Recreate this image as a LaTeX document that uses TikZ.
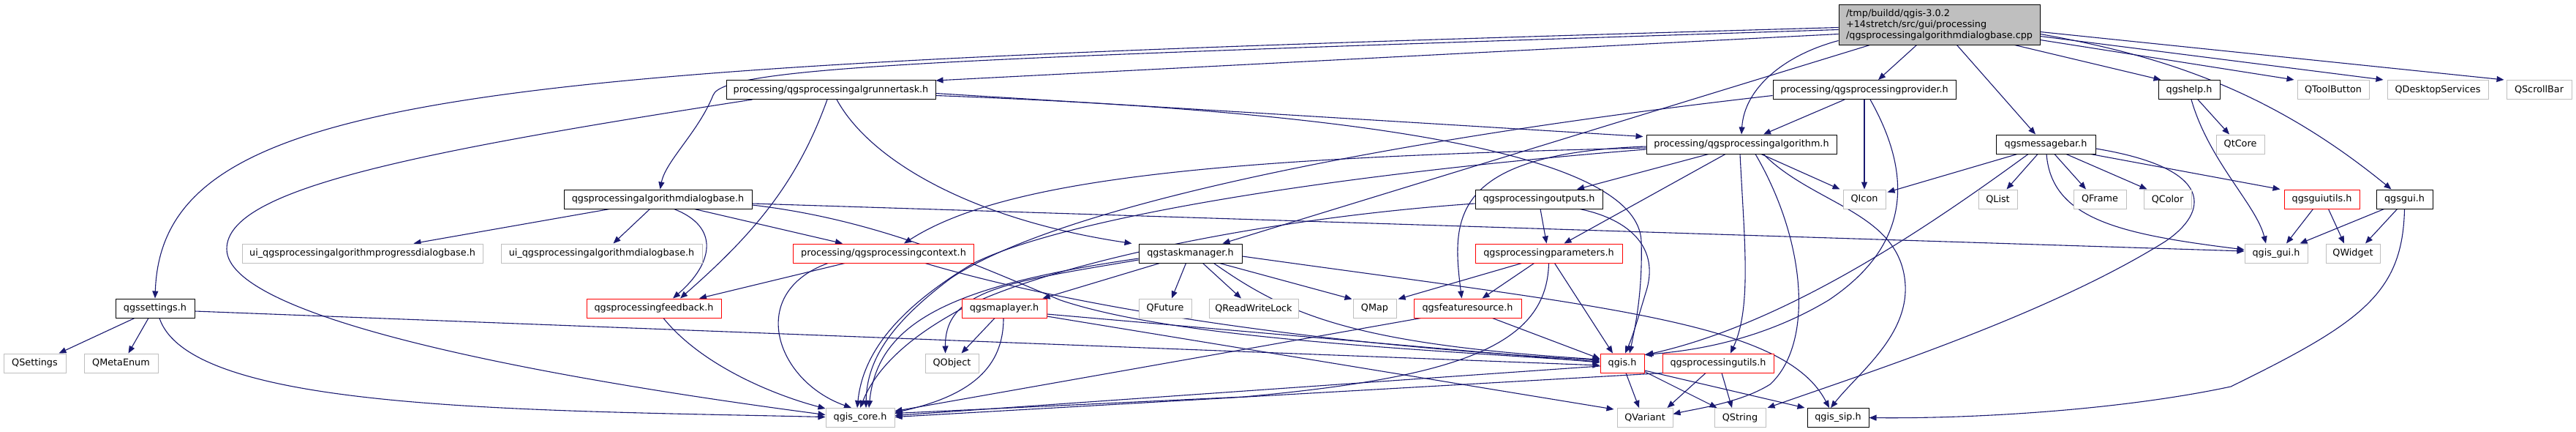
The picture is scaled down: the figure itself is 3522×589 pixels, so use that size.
\documentclass[tikz,border=0pt]{standalone}
\usepackage{fontspec}
\setmainfont{DejaVu Sans}
\usetikzlibrary{arrows.meta,calc}
\definecolor{edgec}{HTML}{191970}
\definecolor{gbord}{HTML}{BFBFBF}
\definecolor{mfill}{HTML}{BFBFBF}
\pgfdeclarelayer{bg}
\pgfsetlayers{bg,main}
\tikzset{
 nb/.style={rectangle, inner sep=0pt, minimum height=13pt, line width=0.5pt, fill=white, font=\fontsize{6.4}{7.5}\selectfont},
 blk/.style={nb, draw=black},
 redn/.style={nb, draw=red},
 gry/.style={nb, draw=gbord},
 e/.style={draw=edgec, line width=0.55pt, -{Triangle[length=5pt,width=4pt]}},
}
\newcommand\mynd[6]{\node[#1, minimum width=#5*0.5pt] (#2) at (#3,#4) {#6};}
\begin{document}
\begin{tikzpicture}[x=0.5pt,y=-0.5pt]
\useasboundingbox (0,0) rectangle (3522,589);
% nodes
\node[blk, fill=mfill, minimum width=137.5pt, minimum height=27.5pt, align=left] (main) at (2651.5,33.5) {/tmp/buildd/qgis-3.0.2\\+14stretch/src/gui/processing\\/qgsprocessingalgorithmdialogbase.cpp};
\mynd{blk}{runner}{1136}{122.5}{286}{processing/qgsprocessingalgrunnertask.h}
\mynd{blk}{provider}{2549}{122.5}{250}{processing/qgsprocessingprovider.h}
\mynd{blk}{help}{2993}{122.5}{84}{qgshelp.h}
\mynd{gry}{tbtn}{3190}{122.5}{98}{QToolButton}
\mynd{gry}{dsk}{3333}{122.5}{138}{QDesktopServices}
\mynd{gry}{sbar}{3471.5}{122.5}{89}{QScrollBar}
\mynd{blk}{alg}{2381}{197}{260}{processing/qgsprocessingalgorithm.h}
\mynd{blk}{msgbar}{2797}{197}{136}{qgsmessagebar.h}
\mynd{gry}{qtcore}{3063}{197}{66}{QtCore}
\mynd{blk}{dlgh}{899.5}{272}{257}{qgsprocessingalgorithmdialogbase.h}
\mynd{blk}{outputs}{2104}{272}{174}{qgsprocessingoutputs.h}
\mynd{gry}{qicon}{2549}{272}{58}{QIcon}
\mynd{gry}{qlist}{2731.5}{272}{53}{QList}
\mynd{gry}{qframe}{2871}{272}{72}{QFrame}
\mynd{gry}{qcolor}{2963.5}{272}{65}{QColor}
\mynd{redn}{guiutils}{3174.5}{272}{103}{qgsguiutils.h}
\mynd{blk}{gui}{3287.5}{272}{77}{qgsgui.h}
\mynd{gry}{uiprog}{495.5}{346}{329}{ui\_qgsprocessingalgorithmprogressdialogbase.h}
\mynd{gry}{uidlg}{822.5}{346}{275}{ui\_qgsprocessingalgorithmdialogbase.h}
\mynd{redn}{context}{1208}{346}{247}{processing/qgsprocessingcontext.h}
\mynd{blk}{taskmgr}{1627.5}{346}{141}{qgstaskmanager.h}
\mynd{redn}{params}{2117.5}{346}{201}{qgsprocessingparameters.h}
\mynd{gry}{qgisgui}{3112}{346}{86}{qgis\_gui.h}
\mynd{gry}{qwidget}{3217}{346}{74}{QWidget}
\mynd{blk}{settings}{212}{421}{108}{qgssettings.h}
\mynd{redn}{feedback}{894}{421}{184}{qgsprocessingfeedback.h}
\mynd{redn}{maplayer}{1373}{421}{116}{qgsmaplayer.h}
\mynd{gry}{qfuture}{1593}{421}{72}{QFuture}
\mynd{gry}{qrwl}{1714}{421}{122}{QReadWriteLock}
\mynd{gry}{qmap}{1879.5}{421}{59}{QMap}
\mynd{redn}{fsrc}{2006.5}{421}{147}{qgsfeaturesource.h}
\mynd{gry}{qsettings}{47.5}{496}{85}{QSettings}
\mynd{gry}{qmeta}{165.5}{496}{101}{QMetaEnum}
\mynd{gry}{qobject}{1301.5}{496}{73}{QObject}
\mynd{redn}{qgis}{2218}{496}{60}{qgis.h}
\mynd{redn}{utils}{2349}{496}{152}{qgsprocessingutils.h}
\mynd{gry}{core}{1176}{570.5}{94}{qgis\_core.h}
\mynd{gry}{qvariant}{2249}{570.5}{76}{QVariant}
\mynd{gry}{qstring}{2379}{570.5}{70}{QString}
\mynd{blk}{sip}{2513}{570.5}{84}{qgis\_sip.h}
\begin{pgfonlayer}{bg}
% main
\draw[e] ($(main.west)+(0,4)$) .. controls (700,90) and (222,110) .. (settings.north);
\draw[e] ($(main.west)+(0,7)$) .. controls (1300,80) and (990,90) .. (975,130) .. controls (955,180) and (910,220) .. ($(dlgh.north)+(3,0)$);
\draw[e] ($(main.west)+(0,13)$) -- ($(runner.north east)+(0,1)$);
\draw[e] ($(main.south west)+(0,-6)$) .. controls (2440,75) and (2385,120) .. (alg.north);
\draw[e] ($(main.south west)+(43,0)$) -- ($(taskmgr.north east)+(-27,0)$);
\draw[e] ($(main.south)+(-31,0)$) -- ($(provider.north)+(19,0)$);
\draw[e] ($(main.south)+(24,0)$) -- ($(msgbar.north)+(-14,0)$);
\draw[e] ($(main.south east)+(-35,0)$) -- ($(help.north west)+(4,0)$);
\draw[e] ($(main.east)+(0,21)$) -- ($(tbtn.north west)+(-4,0)$);
\draw[e] ($(main.east)+(0,16)$) -- ($(dsk.north west)+(-5,0)$);
\draw[e] ($(main.east)+(0,10)$) -- ($(sbar.north west)+(-3,0)$);
\draw[e] ($(main.east)+(0,13)$) .. controls (2950,75) and (3100,120) .. ($(gui.north)+(-18,0)$);
% runner
\draw[e] ($(runner.east)+(0,5)$) -- ($(alg.north west)+(-4,3)$);
\draw[e] ($(runner.east)+(0,8)$) .. controls (1800,150) and (2240,200) .. (2244,330) .. controls (2246,400) and (2235,450) .. ($(qgis.north)+(10,0)$);
\draw[e] ($(runner.south west)+(36,0)$) .. controls (550,210) and (310,260) .. (310,340) .. controls (310,430) and (700,510) .. ($(core.west)+(0,-4)$);
\draw[e] ($(runner.south)+(-5,0)$) .. controls (1090,250) and (1030,320) .. ($(feedback.north)+(36,0)$);
\draw[e] ($(runner.south)+(8,0)$) .. controls (1190,220) and (1330,300) .. ($(taskmgr.north west)+(-9,0)$);
% dlgh
\draw[e] ($(dlgh.south)+(-66,0)$) -- ($(uiprog.north)+(70,0)$);
\draw[e] ($(dlgh.south)+(-11,0)$) -- ($(uidlg.north)+(16,0)$);
\draw[e] ($(dlgh.south)+(22,0)$) .. controls (985,310) and (975,360) .. ($(feedback.north)+(26,0)$);
\draw[e] ($(dlgh.south)+(50,0)$) -- ($(context.north)+(-56,0)$);
\draw[e] ($(dlgh.east)+(0,6)$) -- ($(qgisgui.west)+(0,-3)$);
\draw[e] ($(dlgh.east)+(0,8)$) .. controls (1200,300) and (1330,360) .. (1450,410) .. controls (1600,460) and (1900,475) .. ($(qgis.west)+(0,-2)$);
% settings
\draw[e] ($(settings.south)+(-28,0)$) -- ($(qsettings.north)+(33,0)$);
\draw[e] ($(settings.south)+(-9,0)$) -- ($(qmeta.north)+(10,0)$);
\draw[e] ($(settings.south)+(6,0)$) .. controls (260,560) and (700,560) .. ($(core.west)+(0,-1)$);
\draw[e] ($(settings.east)+(0,4)$) -- ($(qgis.west)+(0,3)$);
% feedback
\draw[e] ($(feedback.south)+(13,0)$) .. controls (960,500) and (1060,540) .. ($(core.north west)+(0,1)$);
% context
\draw[e] ($(context.south)+(-53,0)$) -- ($(feedback.north)+(62,0)$);
\draw[e] ($(context.south)+(-76,0)$) .. controls (1020,400) and (1060,520) .. ($(core.north)+(-12,0)$);
\draw[e] ($(context.south)+(57,0)$) .. controls (1400,400) and (1700,465) .. ($(qgis.west)+(0,-4)$);
% provider
\draw[e] ($(provider.south)+(-27,0)$) -- ($(alg.north)+(30,0)$);
\draw[e] (provider) -- (qicon);
\draw[e] ($(provider.south)+(8,0)$) .. controls (2610,230) and (2620,330) .. (2500,410) .. controls (2400,470) and (2300,480) .. ($(qgis.north east)+(0,2)$);
\draw[e] ($(provider.west)+(0,8)$) .. controls (1900,190) and (1450,280) .. (1300,380) .. controls (1220,440) and (1185,490) .. ($(core.north)+(8,0)$);
% alg
\draw[e] ($(alg.south)+(-45,0)$) -- ($(outputs.north)+(52,0)$);
\draw[e] ($(alg.south)+(-22,0)$) -- ($(params.north)+(21,0)$);
\draw[e] ($(alg.west)+(0,5)$) .. controls (1700,215) and (1380,240) .. ($(context.north)+(28,0)$);
\draw[e] ($(alg.west)+(0,7)$) .. controls (1800,240) and (1450,300) .. (1330,360) .. controls (1230,420) and (1180,480) .. ($(core.north)+(-4,0)$);
\draw[e] ($(alg.west)+(0,3)$) .. controls (1980,210) and (1985,300) .. ($(fsrc.north)+(-8,0)$);
\draw[e] ($(alg.south)+(-2,0)$) .. controls (2385,330) and (2395,420) .. ($(utils.north)+(17,0)$);
\draw[e] ($(alg.south)+(27,0)$) -- ($(qicon.north west)+(-4,0)$);
\draw[e] ($(alg.south)+(19,0)$) .. controls (2470,330) and (2480,470) .. (2420,525) .. controls (2380,550) and (2320,558) .. ($(qvariant.east)+(0,-5)$);
\draw[e] ($(alg.south)+(30,0)$) .. controls (2480,280) and (2600,290) .. (2605,390) .. controls (2608,460) and (2540,510) .. ($(sip.north)+(-10,0)$);
% outputs
\draw[e] ($(outputs.south)+(2,0)$) -- ($(params.north)+(-3,0)$);
\draw[e] ($(outputs.south)+(56,0)$) .. controls (2230,300) and (2270,340) .. (2250,400) .. controls (2238,440) and (2232,460) .. ($(qgis.north)+(4,0)$);
\draw[e] ($(outputs.west)+(0,6)$) .. controls (1700,300) and (1400,370) .. (1300,430) .. controls (1230,470) and (1195,510) .. ($(core.north)+(0,0)$);
% params
\draw[e] ($(params.south)+(-37,0)$) -- ($(qmap.north east)+(2,1)$);
\draw[e] ($(params.south)+(-20,0)$) -- ($(fsrc.north)+(20,0)$);
\draw[e] ($(params.south)+(8,0)$) -- ($(qgis.north)+(-13,0)$);
\draw[e] (params.south) .. controls (2115,470) and (2000,515) .. (1700,542) -- ($(core.east)+(0,-6)$);
% fsrc
\draw[e] ($(fsrc.south)+(34,0)$) -- ($(qgis.west)+(0,-6)$);
\draw[e] ($(fsrc.south)+(-64,0)$) -- ($(core.east)+(0,-9)$);
% taskmgr
\draw[e] ($(taskmgr.south)+(-6,0)$) -- ($(qfuture.north)+(9,0)$);
\draw[e] ($(taskmgr.south)+(17,0)$) -- ($(qrwl.north)+(-17,0)$);
\draw[e] ($(taskmgr.south)+(40,0)$) -- ($(qmap.north west)+(-1,1)$);
\draw[e] ($(taskmgr.south)+(32,0)$) .. controls (1760,430) and (1850,470) .. ($(qgis.west)+(0,-5)$);
\draw[e] ($(taskmgr.south)+(-42,0)$) -- ($(maplayer.north east)+(-6,0)$);
\draw[e] ($(taskmgr.west)+(0,9)$) .. controls (1380,385) and (1292,395) .. ($(qobject.north)+(-9,0)$);
\draw[e] ($(taskmgr.west)+(0,7)$) .. controls (1300,390) and (1200,440) .. ($(core.north)+(12,0)$);
\draw[e] ($(taskmgr.east)+(0,4)$) .. controls (2200,420) and (2440,440) .. ($(sip.north)+(-12,0)$);
% maplayer
\draw[e] ($(maplayer.south)+(-13,0)$) -- ($(qobject.north)+(13,0)$);
\draw[e] ($(maplayer.south)+(-1,0)$) .. controls (1372,500) and (1330,540) .. ($(core.east)+(0,-7)$);
\draw[e] ($(maplayer.east)+(0,8)$) -- ($(qgis.west)+(0,-1)$);
\draw[e] ($(maplayer.east)+(0,11)$) -- ($(qvariant.north west)+(-4,2)$);
% qgis
\draw[e] ($(qgis.west)+(0,4)$) -- ($(core.east)+(0,-3)$);
\draw[e] ($(qgis.south)+(5,0)$) -- ($(qvariant.north)+(-8,0)$);
\draw[e] ($(qgis.south east)+(0,-2)$) -- ($(qstring.north west)+(4,0)$);
\draw[e] ($(qgis.east)+(0,10)$) -- ($(sip.north west)+(-3,0)$);
% utils
\draw[e] ($(utils.south)+(-76,0)$) -- ($(core.east)+(0,-1)$);
\draw[e] ($(utils.south)+(-17,0)$) -- ($(qvariant.north east)+(-8,0)$);
\draw[e] ($(utils.south)+(5,0)$) -- ($(qstring.north)+(-11,0)$);
% msgbar
\draw[e] ($(msgbar.south)+(-39,0)$) -- ($(qicon.north east)+(2,4)$);
\draw[e] ($(msgbar.south)+(-11,0)$) -- ($(qlist.north)+(12,0)$);
\draw[e] ($(msgbar.south)+(12,0)$) -- ($(qframe.north)+(-19,0)$);
\draw[e] ($(msgbar.south)+(28,0)$) -- ($(qcolor.north west)+(5,0)$);
\draw[e] ($(msgbar.south east)+(-7,0)$) -- ($(guiutils.north west)+(-5,0)$);
\draw[e] ($(msgbar.south)+(-24,0)$) .. controls (2650,300) and (2450,440) .. ($(qgis.north east)+(2,2)$);
\draw[e] ($(msgbar.south)+(1,0)$) .. controls (2805,300) and (2900,320) .. ($(qgisgui.west)+(0,-5)$);
\draw[e] ($(msgbar.east)+(0,6)$) .. controls (3030,230) and (3020,290) .. (2960,330) .. controls (2800,430) and (2550,510) .. ($(qstring.north east)+(2,0)$);
% help
\draw[e] ($(help.south)+(12,0)$) -- ($(qtcore.north)+(-15,0)$);
\draw[e] ($(help.south)+(3,0)$) .. controls (3020,220) and (3085,280) .. ($(qgisgui.north)+(-14,0)$);
% guiutils
\draw[e] ($(guiutils.south)+(-12,0)$) -- ($(qgisgui.north)+(14,0)$);
\draw[e] ($(guiutils.south)+(9,0)$) -- ($(qwidget.north)+(-12,0)$);
% gui
\draw[e] ($(gui.south)+(-28,0)$) -- ($(qgisgui.north east)+(-11,0)$);
\draw[e] ($(gui.south)+(-10,0)$) -- ($(qwidget.north)+(17,0)$);
\draw[e] (gui.south) .. controls (3285,400) and (3230,440) .. (3050,528) .. controls (2900,560) and (2700,572) .. (sip.east);
\end{pgfonlayer}
\end{tikzpicture}
\end{document}
